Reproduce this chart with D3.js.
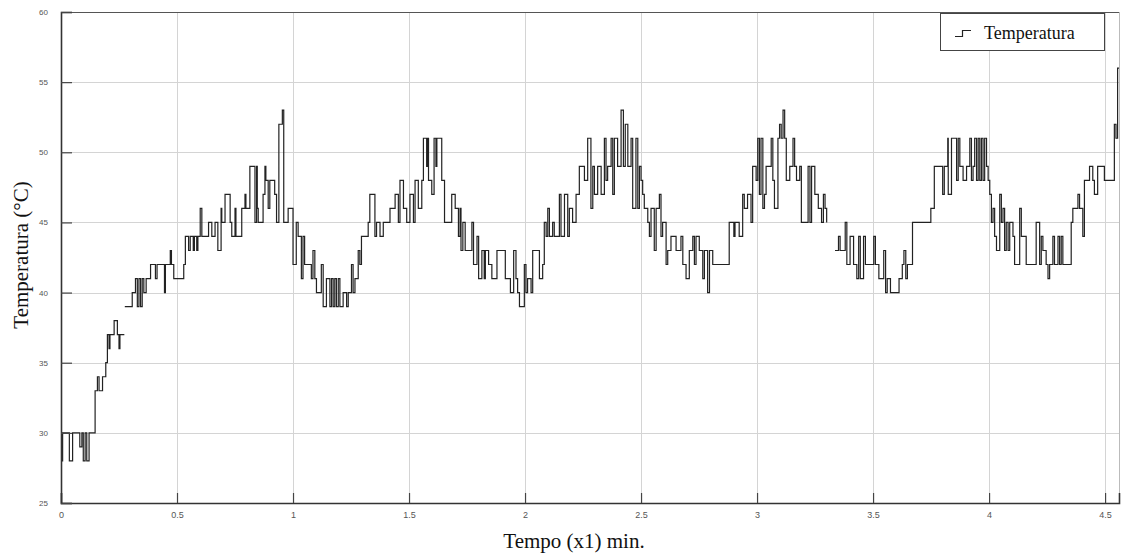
<!DOCTYPE html>
<html><head><meta charset="utf-8">
<script src="https://cdn.jsdelivr.net/npm/d3@7"></script>
<style>body{margin:0;background:#fff}svg{display:block}</style>
</head><body>
<svg id="chart" width="1122" height="553"></svg>
<script>
const xTicks = [0, 0.5, 1, 1.5, 2, 2.5, 3, 3.5, 4, 4.5];
const xTickLabels = ["0", "0.5", "1", "1.5", "2", "2.5", "3", "3.5", "4", "4.5"];
const yTicks = [25, 30, 35, 40, 45, 50, 55, 60];
const seriesName = "Temperatura";
// step change points (time, temperature); null = gap in record
const times = [0,0.007,0.036,0.05,0.081,0.09,0.096,0.104,0.111,0.121,0.147,0.157,0.164,0.179,0.193,0.2,0.207,0.211,0.229,0.243,0.25,0.254,0.273,0.274,
0.275,0.307,0.321,0.329,0.336,0.343,0.35,0.357,0.367,0.386,0.407,0.414,0.446,0.45,0.471,0.476,0.486,0.529,0.536,0.55,0.557,0.57,0.575,0.585,0.59,0.6,0.607,0.636,0.65,0.664,0.676,0.69,0.693,0.707,0.729,0.736,0.75,0.754,0.779,0.793,0.797,0.814,0.836,0.843,0.846,0.85,0.871,0.879,0.883,0.893,0.9,0.921,0.929,0.939,0.954,0.96,0.979,
1.0,1.014,1.022,1.036,1.043,1.05,1.079,1.086,1.094,1.101,1.122,1.13,1.144,1.159,1.166,1.173,1.18,1.187,1.195,1.202,1.216,1.231,1.238,1.252,1.259,1.267,1.281,1.288,1.295,1.324,1.331,1.353,1.36,1.375,1.389,1.418,1.44,1.454,1.461,1.476,1.49,1.504,1.519,1.526,1.54,1.555,1.562,1.576,1.581,1.584,1.598,1.608,1.616,1.62,1.641,1.653,1.684,1.699,1.713,1.72,1.724,1.732,1.742,1.771,1.778,1.793,1.8,1.814,1.824,1.829,1.843,1.857,1.879,1.915,1.937,1.951,1.961,1.968,1.976,1.997,2.004,2.011,2.026,2.033,2.062,2.076,2.083,2.091,2.098,2.105,2.119,2.126,2.148,2.155,2.17,2.184,2.191,2.205,2.22,2.234,2.256,2.27,2.284,2.292,2.299,2.313,2.328,2.342,2.349,2.356,2.371,2.378,2.385,2.399,2.414,2.424,2.432,2.443,2.457,2.464,2.478,2.486,2.493,2.5,2.507,2.514,2.529,2.536,2.543,2.557,2.565,2.579,2.586,2.593,2.608,2.615,2.629,2.651,2.672,2.68,2.694,2.708,2.723,2.73,2.737,2.751,2.766,2.773,2.787,2.795,2.809,2.88,2.9,2.905,2.923,2.938,2.945,2.959,2.974,2.981,2.996,3.003,3.01,3.017,3.025,3.032,3.039,3.061,3.068,3.075,3.09,3.097,3.104,3.112,3.119,3.126,3.141,3.155,3.162,3.17,3.184,3.191,3.22,3.228,3.235,3.249,3.264,3.278,3.286,3.293,3.3,3.335,3.336,3.351,3.358,3.38,3.387,3.401,3.416,3.43,3.438,3.445,3.459,3.467,3.503,3.51,3.525,3.546,3.554,3.561,3.575,3.612,3.626,3.633,3.641,3.648,3.67,3.749,3.764,3.8,3.807,3.822,3.824,3.838,3.86,3.867,3.874,3.888,3.903,3.917,3.924,3.931,3.938,3.946,3.953,3.96,3.967,3.974,3.981,3.989,3.996,4.003,4.01,4.017,4.024,4.032,4.046,4.053,4.06,4.067,4.074,4.082,4.089,4.103,4.11,4.132,4.139,4.16,4.203,4.218,4.225,4.232,4.246,4.254,4.261,4.275,4.282,4.297,4.304,4.311,4.318,4.354,4.361,4.383,4.39,4.404,4.411,4.433,4.447,4.454,4.468,4.497,4.54,4.547,4.554,4.6];
const temps = [28,30,28,30,29,30,28,30,28,30,33,34,33,34,35,37,36,37,38,37,36,37,37,null,
39,40,41,39,41,39,41,40,41,42,41,42,40,42,43,42,41,42,44,43,44,43,44,43,44,46,44,45,44,45,43,46,45,47,45,44,46,44,46,47,46,49,45,49,46,45,47,49,48,46,48,47,45,52,53,45,46,
42,45,44,41,44,42,41,43,41,40,42,39,41,39,41,39,41,39,41,39,40,39,40,42,40,41,43,42,44,45,47,44,45,44,45,46,47,45,48,46,45,47,45,48,46,48,51,49,51,48,47,51,49,51,48,45,47,46,44,46,43,45,43,45,42,44,41,43,41,43,42,41,43,41,40,43,41,40,39,42,40,41,40,43,41,42,45,44,46,44,45,44,47,44,47,44,46,45,47,49,48,51,46,49,47,49,47,51,48,49,51,47,51,49,53,49,52,49,51,46,51,46,49,48,47,46,45,44,46,43,46,47,44,45,42,43,44,43,44,42,41,43,44,42,44,43,41,43,40,43,42,45,44,45,44,47,46,47,45,49,48,51,47,51,46,47,49,51,48,46,51,52,51,53,51,48,49,51,49,48,49,45,49,45,49,47,46,45,47,46,45,null,43,44,43,45,42,44,42,41,44,41,44,42,44,42,41,43,40,41,40,41,42,43,41,42,45,46,49,47,49,51,47,51,48,51,49,48,49,51,48,49,51,48,51,48,51,48,51,49,48,47,45,46,44,43,47,45,46,43,45,43,45,44,42,46,44,42,45,42,44,43,42,41,42,44,42,44,42,44,42,45,46,47,46,44,48,49,48,47,49,48,52,51,56,56];

const svg = d3.select("#chart");
const L = 61, R = 1119, T = 12, B = 503;
const x = d3.scaleLinear().domain([0, 4.56]).range([L, R]);
const y = d3.scaleLinear().domain([25, 60]).range([B, T]);

svg.append("defs").append("clipPath").attr("id","clip")
  .append("rect").attr("x", L).attr("y", T).attr("width", R - L).attr("height", B - T);

// grid
const grid = svg.append("g").attr("stroke", "#d4d4d4").attr("stroke-width", 1);
grid.selectAll("line.v").data(xTicks.filter(d => d > 0)).join("line")
  .attr("x1", d => Math.round(x(d)) + 0.5).attr("x2", d => Math.round(x(d)) + 0.5)
  .attr("y1", T).attr("y2", B);
grid.selectAll("line.h").data(yTicks.filter(d => d > 25 && d < 60)).join("line")
  .attr("y1", d => Math.round(y(d)) + 0.5).attr("y2", d => Math.round(y(d)) + 0.5)
  .attr("x1", L).attr("x2", R);

// frame
svg.append("line").attr("x1", L).attr("x2", R).attr("y1", T + 0.5).attr("y2", T + 0.5).attr("stroke", "#555").attr("stroke-width", 1);
svg.append("line").attr("x1", R + 0.5).attr("x2", R + 0.5).attr("y1", T).attr("y2", B).attr("stroke", "#bbb").attr("stroke-width", 1);

// data
const data = times.map((t, i) => ({t, v: temps[i]}));
const line = d3.line().defined(d => d.v !== null).x(d => x(d.t)).y(d => y(d.v)).curve(d3.curveStepAfter);
svg.append("path").datum(data).attr("clip-path", "url(#clip)")
  .attr("fill", "none").attr("stroke", "#222").attr("stroke-width", 1.2).attr("d", line);

// axes
const xAxis = d3.axisBottom(x).tickValues(xTicks).tickSize(-10).tickPadding(9)
  .tickFormat((d, i) => xTickLabels[i]);
const gx = svg.append("g").attr("transform", `translate(0,${B})`).call(xAxis);
gx.select(".domain").attr("stroke", "#333").attr("stroke-width", 1.6);
gx.selectAll(".tick line").attr("stroke", "#444").attr("stroke-width", 1.2);
gx.selectAll(".tick text").attr("font-family", "Arial, 'Liberation Sans', sans-serif").attr("font-size", 9).attr("fill", "#555");

const yAxis = d3.axisLeft(y).tickValues(yTicks).tickSize(-11).tickPadding(13);
const gy = svg.append("g").attr("transform", `translate(${L},0)`).call(yAxis);
gy.select(".domain").attr("stroke", "#333").attr("stroke-width", 1.6);
gy.selectAll(".tick line").attr("stroke", "#444").attr("stroke-width", 1.2);
gy.selectAll(".tick text").attr("font-family", "Arial, 'Liberation Sans', sans-serif").attr("font-size", 8).attr("fill", "#555");

// titles
svg.append("text").attr("x", 574).attr("y", 548).attr("text-anchor", "middle")
  .attr("font-family", "'Liberation Serif', 'Times New Roman', serif").attr("font-size", 21).attr("fill", "#111")
  .text("Tempo (x1) min.");
svg.append("text").attr("transform", "translate(28,255) rotate(-90)").attr("text-anchor", "middle")
  .attr("font-family", "'Liberation Serif', 'Times New Roman', serif").attr("font-size", 21).attr("fill", "#111")
  .text("Temperatura (°C)");

// legend
const lg = svg.append("g");
lg.append("rect").attr("x", 940.5).attr("y", 13.5).attr("width", 164).attr("height", 37)
  .attr("fill", "#fff").attr("stroke", "#444").attr("stroke-width", 1);
lg.append("path").attr("d", "M955,36.5 H962.5 V30.5 H971").attr("fill", "none").attr("stroke", "#222").attr("stroke-width", 1.2);
lg.append("text").attr("x", 984).attr("y", 39).attr("font-family", "'Liberation Serif', 'Times New Roman', serif")
  .attr("font-size", 18).attr("fill", "#111").text(seriesName);
</script>
</body></html>
